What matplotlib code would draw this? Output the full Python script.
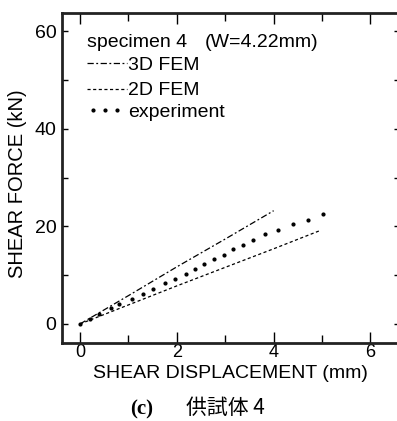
import matplotlib.pyplot as plt
from matplotlib.lines import Line2D
from matplotlib.ticker import MultipleLocator

plt.rcParams['font.family'] = ['Liberation Sans', 'DejaVu Sans']

# shear force vs shear displacement, specimen 4
fem3d_x = [0.0, 1.0, 2.0, 3.0, 4.0]
fem3d_y = [0.0, 5.8, 11.7, 17.4, 23.2]

fem2d_x = [0.0, 1.0, 2.0, 3.0, 4.0, 4.95]
fem2d_y = [0.0, 3.9, 7.8, 11.6, 15.4, 19.1]

exp_x = [0.0, 0.2, 0.4, 0.65, 0.81, 1.07, 1.3, 1.51, 1.76, 1.97, 2.19, 2.38,
         2.56, 2.77, 2.98, 3.17, 3.37, 3.58, 3.82, 4.09, 4.41, 4.70, 5.02]
exp_y = [0.0, 1.0, 2.0, 3.2, 4.16, 5.06, 6.1, 7.17, 8.3, 9.2, 10.25, 11.27,
         12.23, 13.26, 14.2, 15.3, 16.25, 17.27, 18.37, 19.3, 20.5, 21.37, 22.5]

x_ticks = [0, 2, 4, 6]
y_ticks = [0, 20, 40, 60]

W, H = 397, 421
fig = plt.figure(figsize=(W / 100, H / 100), dpi=100)


def fx(px):
    return px / W


def fy(py):
    return 1 - py / H


ax = fig.add_axes([fx(62), fy(343), fx(400) - fx(62), fy(13) - fy(343)])

dashdot = (5, 2, 1.5, 2)
dashed = (2.5, 2)
ax.plot(fem3d_x, fem3d_y, color='black', lw=0.9, dashes=dashdot)
ax.plot(fem2d_x, fem2d_y, color='black', lw=0.9, dashes=dashed)
ax.plot(exp_x, exp_y, ls='none', marker='o', ms=2.0, color='black')

ax.set_xlim(-0.372, 6.61)
ax.set_ylim(-3.9, 63.7)
ax.set_xticks(x_ticks)
ax.set_yticks(y_ticks)
ax.xaxis.set_minor_locator(MultipleLocator(1))
ax.yaxis.set_minor_locator(MultipleLocator(10))
ax.tick_params(which='both', direction='in', top=True, right=True,
               labelsize=14, width=1, color='black')
ax.tick_params(which='major', length=8)
ax.tick_params(which='minor', length=6)
ax.tick_params(axis='y', which='both', length=4, pad=4)
ax.tick_params(axis='x', which='both', pad=1, labelsize=13)
for s in ax.spines.values():
    s.set_linewidth(2)
    s.set_color('#222222')

fig.text(fx(18), fy(184), 'SHEAR FORCE (kN)', fontsize=14.5, rotation=90,
         ha='center', va='center')
fig.text(fx(230), fy(373), 'SHEAR DISPLACEMENT (mm)', fontsize=14,
         ha='center', va='center')

# legend block drawn by hand
fs = 14
fig.text(fx(87), fy(47), 'specimen 4', fontsize=fs, va='baseline')
fig.text(fx(205), fy(47), '(W=4.22mm)', fontsize=fs, va='baseline')
fig.add_artist(Line2D([fx(87), fx(127)], [fy(63), fy(63)], color='black',
                      lw=0.9, dashes=dashdot))
fig.text(fx(128), fy(70), '3D FEM', fontsize=fs, va='baseline')
fig.add_artist(Line2D([fx(87), fx(127)], [fy(89), fy(89)], color='black',
                      lw=0.9, dashes=dashed))
fig.text(fx(128), fy(95), '2D FEM', fontsize=fs, va='baseline')
fig.add_artist(Line2D([fx(93), fx(105), fx(117)], [fy(110)] * 3, ls='none',
                      marker='o', ms=2.0, color='black'))
fig.text(fx(128), fy(117), 'experiment', fontsize=fs, va='baseline')

fig.text(fx(142), fy(409), '(c)', fontsize=15, family='Liberation Serif',
         fontweight='bold', ha='center', va='center')
fig.text(fx(225), fy(408), '供試体 4', fontsize=15,
         family=['Noto Sans CJK JP', 'DejaVu Sans'], ha='center', va='center')

fig.savefig('out.png', dpi=100)
